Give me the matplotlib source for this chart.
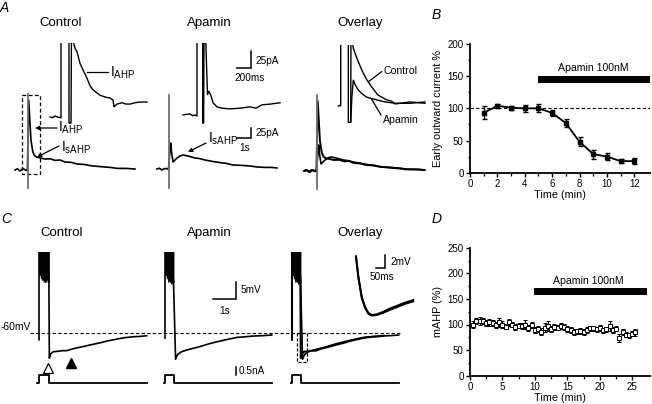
import matplotlib
matplotlib.use('Agg')
import matplotlib.pyplot as plt
from matplotlib.transforms import Affine2D
from matplotlib.patches import Rectangle

plt.rcParams['font.family'] = ['Liberation Sans', 'DejaVu Sans']
plt.rcParams['mathtext.default'] = 'regular'

# ---------------- data ----------------
# B: early outward current (%) vs time (min)
b_time = [1, 2, 3, 4, 5, 6, 7, 8, 9, 10, 11, 12]
b_value = [93, 104, 101, 100, 100, 93, 77, 48, 29, 25, 18, 18]
b_err = [10, 3, 3, 5, 6, 5, 6, 7, 7, 5, 3, 5]

# D: mAHP (%) vs time (min)
d_time = [0.5, 1, 1.5, 2, 2.5, 3, 3.5, 4, 4.5, 5, 5.5, 6, 6.5, 7, 7.5, 8, 8.5,
          9, 9.5, 10, 10.5, 11, 11.5, 12, 12.5, 13, 13.5, 14, 14.5, 15, 15.5,
          16, 16.5, 17, 17.5, 18, 18.5, 19, 19.5, 20, 20.5, 21, 21.5, 22, 22.5,
          23, 23.5, 24, 24.5, 25, 25.5]
d_value = [100, 107, 107, 107, 103, 104, 103, 99, 104, 100, 96, 104, 100, 95,
           98, 97, 100, 93, 99, 89, 92, 86, 94, 97, 92, 95, 94, 97, 95, 92, 89,
           86, 87, 87, 86, 89, 93, 93, 91, 93, 89, 91, 97, 89, 92, 73, 85, 80,
           79, 82, 85]
d_err = [7, 6, 7, 6, 5, 6, 5, 5, 9, 6, 5, 6, 5, 6, 5, 5, 8, 6, 5, 6, 6, 7, 8,
         10, 6, 6, 5, 6, 6, 6, 6, 6, 5, 6, 6, 6, 5, 5, 5, 6, 5, 5, 9, 6, 5, 8,
         6, 5, 5, 5, 7]

# A: whole traces (s, pA)
a_ctrl_t = [-0.93, -0.75, -0.57, -0.43, -0.29, -0.15, -0.04, 0.05, 0.21, 0.34,
            0.46, 0.62, 0.9, 1.21, 1.6, 1.93, 2.3, 2.64, 3.1, 3.5, 4.0, 4.43,
            5.0, 5.5, 6.0, 6.36, 7.0, 7.64]
a_ctrl_i = [0, 3, -2.5, 2, 2.5, -1, 0, 175, 75, 46, 36, 32, 30, 27.5, 28, 24,
            25, 20, 19, 15, 14, 11, 9, 7.5, 6, 4, 4, 2.5]
a_apa_t = [-0.86, -0.7, -0.5, -0.35, -0.21, -0.04, 0.07, 0.12, 0.18, 0.29,
           0.43, 0.57, 0.79, 1.0, 1.36, 1.86, 2.2, 2.57, 3.1, 3.64, 4.1, 4.57,
           5.2, 5.79, 6.3, 6.86, 7.3, 7.71]
a_apa_i = [0, 2, -2.5, 1, 1, 0, 47.5, 65, 42, 17.5, 22.5, 27.5, 32.5, 35,
           32.5, 27.5, 26, 22.5, 19, 16, 14, 10, 9, 7.5, 5, 4, 4, 2.5]
a_ctrl_spike = [-45, 190]
a_apa_spike = [-47, 185]

# A: expanded insets (ms, pA)
a_ins_ctrl_t = [-157, -120, -86, -50, -14, 0, 0, 114, 114, 143, 150, 171, 200,
                229, 271, 329, 371, 414, 457, 557, 643, 700, 743, 757, 800,
                871, 930, 986, 1060, 1129, 1229]
a_ins_ctrl_i = [0, -1, 1.5, 0, -0.7, -1.5, 128, 128, -9, -9, 128, 113, 101,
                96, 79, 66, 57, 46, 40, 32, 29, 28, 25, 15, 19, 21, 19, 19,
                21, 22, 22]
a_ins_apa_t = [-200, -150, -100, -60, -29, 0, 0, 81, 81, 95, 100, 120, 150,
               171, 200, 229, 286, 357, 471, 614, 757, 843, 929, 1043, 1186]
a_ins_apa_i = [0, 1, 1.5, -1, 0, -1.5, 125, 125, -12, -12, 125, 125, 30, 35,
               28, 18, 12, 10, 9, 10, 12, 10, 15, 16, 18]
a_ovl_ctrl_t = [-34, -15, 0, 0, 109, 109, 143, 147, 169, 180, 229, 276, 319,
                376, 443, 533, 657, 729, 776, 847, 990, 1100, 1204]
a_ovl_ctrl_i = [0, 1, 0, 112, 112, -24, -24, 112, 93, 85, 71, 59, 49, 38, 28,
                16, 9, 7, 3, 4, 6, 5, 4]
a_ovl_apa_t = [143, 161, 180, 204, 247, 304, 371, 514, 633, 776, 990, 1204]
a_ovl_apa_i = [-24, 16, 38, 32, 24, 18, 13, 9, 6, 4, 4, 6]

# C: membrane potential (s, mV)
c_ctrl_t = [0, 0, 0.43, 0.45, 0.5, 0.62, 0.8, 1.0, 1.2, 1.5, 1.91, 2.3, 2.65,
            3.0, 3.38, 3.7, 4.09, 4.4, 4.68]
c_ctrl_v = [-62, 0, -45, -67.4, -66.2, -65.5, -65.4, -65.2, -65.2, -64.6, -64.0,
            -63.4, -62.9, -62.3, -61.8, -61.4, -61.1, -61.0, -60.8]
c_apa_t = [0, 0, 0.37, 0.46, 0.55, 0.72, 1.0, 1.52, 1.9, 2.25, 2.7, 3.12, 3.5,
           3.83, 4.2, 4.64]
c_apa_v = [-61.5, 0, -45, -67.7, -66.3, -65.5, -64.9, -64.0, -63.2, -62.6,
           -61.9, -61.3, -61.1, -60.9, -60.8, -60.6]
# spike-burst troughs (s, mV); spike peaks run off the top of the frame
c_burst_ctrl_t = [0, 0.02, 0.05, 0.08, 0.11, 0.14, 0.17, 0.2, 0.23, 0.26,
                  0.29, 0.32, 0.35, 0.38, 0.41, 0.43]
c_burst_ctrl_lo = [-41.5, -43, -42, -44, -42.5, -44.5, -43, -45, -43.5, -45,
                   -44, -45, -43.5, -44.5, -45, -45]
c_burst_apa_t = [0, 0.02, 0.05, 0.08, 0.11, 0.14, 0.17, 0.2, 0.23, 0.26,
                 0.29, 0.32, 0.35, 0.37]
c_burst_apa_lo = [-41.5, -43, -42, -44, -42.5, -45, -43.5, -45, -44, -45.5,
                  -44, -45.5, -44.5, -45]
# current steps (s, nA)
c_step_ctrl_t = [-0.1, 0, 0, 0.42, 0.42, 4.68]
c_step_apa_t = [-0.05, 0, 0, 0.37, 0.37, 4.64]
c_step_i = [0, 0, 0.5, 0.5, 0, 0]
# C inset (ms, mV above trough)
c_ins_t = [0, 13, 32, 50, 68, 87, 115, 152, 189, 226, 272, 318]
c_ins_ctrl_v = [9.0, 5.9, 2.8, 1.3, 0.35, 0, 0.1, 0.5, 1.0, 1.4, 1.9, 2.3]
c_ins_apa_v = [9.0, 5.8, 2.6, 1.1, 0.2, -0.1, 0, 0.35, 0.8, 1.2, 1.7, 2.1]

# ---------------- figure ----------------
W, H = 652, 404
fig = plt.figure(figsize=(W / 100, H / 100), dpi=100)
ov = fig.add_axes([0, 0, 1, 1])
ov.set_xlim(0, W)
ov.set_ylim(H, 0)
ov.set_autoscale_on(False)
ov.axis('off')

GREY = '#707070'


def place(x0, y0, sx, sy, v0=0.0):
    return Affine2D().translate(0, -v0).scale(sx, -sy).translate(x0, y0) + ov.transData


def clipper(top):
    return Rectangle((0, top), W, H - top, transform=ov.transData)


def trace(t, v, x0, y0, sx, sy, v0=0.0, top=None, **kw):
    kw.setdefault('color', 'k')
    kw.setdefault('lw', 1.0)
    ln, = ov.plot(t, v, transform=place(x0, y0, sx, sy, v0), **kw)
    if top is not None:
        ln.set_clip_path(clipper(top))
    return ln


def burst(t, lo, x0, sx):
    f = ov.fill_between(t, lo, [0] * len(t), color='k', lw=0.6, ec='k',
                        transform=place(x0, 333, sx, SC_V, -60))
    f.set_clip_path(clipper(252))


def scalebar(x, y, sx, sy, dx, dy):
    ov.plot([x - dx * sx, x, x], [y, y, y - dy * sy], color='k', lw=1.1,
            solid_joinstyle='miter')


def label(x, y, s, size=7.2, **kw):
    ov.text(x, y, s, fontsize=size, **kw)


# panel letters and titles
for x, y, s in [(0, 8, 'A'), (432, 15, 'B'), (1, 219, 'C'), (432, 219, 'D')]:
    ov.text(x, y, s, fontsize=10, style='italic', va='center')
for x, y, s in [(61, 23, 'Control'), (209, 23, 'Apamin'), (360, 23, 'Overlay'),
                (62, 233, 'Control'), (209, 233, 'Apamin'), (360, 233, 'Overlay')]:
    ov.text(x, y, s, fontsize=9.5, ha='center', va='center')

# ----- A whole traces -----
SA_T, SA_I = 14, 0.4
for x0, y0, t, i, sp in [(28, 170, a_ctrl_t, a_ctrl_i, a_ctrl_spike),
                         (169, 169, a_apa_t, a_apa_i, a_apa_spike)]:
    trace(t, i, x0, y0, SA_T, SA_I, lw=1.2)
    trace([0, 0], sp, x0, y0, SA_T, SA_I, color=GREY, lw=1.3)
trace(a_ctrl_t, a_ctrl_i, 317, 171, SA_T, SA_I, lw=1.4)
trace(a_apa_t, a_apa_i, 317, 171, SA_T, SA_I, lw=1.2)
trace([0, 0], a_ctrl_spike, 317, 171, SA_T, SA_I, color=GREY, lw=1.3)

# ----- A insets -----
SI_T, SI_I = 0.07, 0.68
trace(a_ins_ctrl_t, a_ins_ctrl_i, 61, 117, SI_T, SI_I, top=43)
trace(a_ins_apa_t, a_ins_apa_i, 197, 115, SI_T, SI_I, top=43)
trace(a_ovl_ctrl_t, a_ovl_ctrl_i, 340.7, 106, SI_T, SI_I, top=45)
trace(a_ovl_apa_t, a_ovl_apa_i, 340.7, 106, SI_T, SI_I, top=45)

# A annotations
ov.add_patch(Rectangle((22, 95), 18, 79, fill=False, ls=(0, (3, 2)), lw=0.9, ec='k'))
arrow = dict(arrowstyle='-|>', color='k', lw=0.9, mutation_scale=6,
             shrinkA=0, shrinkB=0)
ov.annotate('', xy=(35, 128), xytext=(57, 128), arrowprops=arrow)
ov.text(58.5, 132, r'I$_{AHP}$', fontsize=10, va='baseline')
ov.annotate('', xy=(37, 157), xytext=(59, 146), arrowprops=arrow)
ov.text(61, 152, r'I$_{sAHP}$', fontsize=10, va='baseline')
ov.plot([108, 87], [72, 72], color='k', lw=0.9)
ov.text(109.5, 77, r'I$_{AHP}$', fontsize=10, va='baseline')
ov.annotate('', xy=(188, 152), xytext=(206, 143), arrowprops=arrow)
ov.text(208.5, 143, r'I$_{sAHP}$', fontsize=10, va='baseline')
ov.plot([381.7, 368.3], [71.7, 81.7], color='k', lw=0.9)
label(383, 71, 'Control', size=7.6, va='center')
ov.plot([381, 371.7], [115, 99.3], color='k', lw=0.9)
label(383, 120, 'Apamin', size=7.6, va='center')

# A scale bars
scalebar(251, 68, SI_T, SI_I, 200, 25)
label(255, 61, '25pA', va='center')
label(250, 78, '200ms', va='center', ha='center')
scalebar(251, 138, SA_T, SA_I, 1, 25)
label(255, 133, '25pA', va='center')
label(245, 148, '1s', va='center', ha='center')

# ----- C traces -----
SC_T, SC_V, SC_I = 23, 3.4, 16
ov.plot([30, 400], [333, 333], color='k', lw=0.8, ls=(0, (3, 2)))
label(31, 327, '-60mV', va='center', ha='right', size=7.4)

for x0, bt, blo, t, v, st in [(39, c_burst_ctrl_t, c_burst_ctrl_lo, c_ctrl_t, c_ctrl_v, c_step_ctrl_t),
                              (165, c_burst_apa_t, c_burst_apa_lo, c_apa_t, c_apa_v, c_step_apa_t)]:
    burst(bt, blo, x0, SC_T)
    trace(t, v, x0, 333, SC_T, SC_V, v0=-60, top=252, lw=1.2)
    trace(st, c_step_i, x0, 383, SC_T, SC_I, lw=1.3)

burst(c_burst_apa_t, c_burst_apa_lo, 292, SC_T)
trace(c_ctrl_t, c_ctrl_v, 292, 333, SC_T * 0.85, SC_V, v0=-60, top=252, lw=1.5)
trace(c_apa_t, c_apa_v, 292, 333, SC_T, SC_V, v0=-60, top=252, lw=1.2)
trace(c_step_apa_t, c_step_i, 292, 383, SC_T, SC_I, lw=1.3)

# C inset
SCI_T, SCI_V = 0.18, 6.5
trace(c_ins_t, c_ins_ctrl_v, 356, 315, SCI_T, SCI_V, lw=1.4)
trace(c_ins_t, c_ins_apa_v, 356, 315, SCI_T, SCI_V, lw=1.4)

# C annotations
ov.add_patch(Rectangle((297.3, 333.3), 9.4, 29, fill=False, ls=(0, (2.5, 1.5)), lw=0.9, ec='k'))
ov.plot([48], [368], marker='^', ms=7.5, mfc='white', mec='k', mew=0.9)
ov.plot([71], [363], marker='^', ms=7.5, color='k')
scalebar(236, 299, SC_T, SC_V, 1, 5)
label(241, 290, '5mV', va='center')
label(225, 311, '1s', va='center', ha='center')
ov.plot([236, 236], [375, 375 - 0.5 * SC_I], color='k', lw=1.1)
label(239, 371, '0.5nA', va='center')
scalebar(385, 268, SCI_T, SCI_V, 50, 2)
label(390, 262, '2mV', va='center')
label(382, 277, '50ms', va='center', ha='center')


# ---------------- B and D ----------------
def style(ax):
    for s in ['top', 'right']:
        ax.spines[s].set_visible(False)
    for s in ['left', 'bottom']:
        ax.spines[s].set_linewidth(1.3)
    ax.tick_params(which='major', direction='out', length=3, width=1,
                   labelsize=7, pad=1.5)
    ax.tick_params(which='minor', direction='out', length=1.8, width=0.9)
    ax.patch.set_alpha(0)


axB = fig.add_axes([470 / W, 1 - 172.7 / H, 180 / W, 128.7 / H])
style(axB)
axB.set_xlim(0, 180 / 13.69)
axB.set_ylim(0, 200)
axB.axhline(100, color='k', lw=0.8, ls=(0, (3, 2)))
axB.errorbar(b_time, b_value, yerr=b_err, fmt='-s', color='k', ms=2.5, lw=1.3,
             elinewidth=1, capsize=1.8, capthick=1, clip_on=False)
axB.fill_between([5, 13.15], 140, 151, color='k', lw=0)
axB.text(9.0, 162, 'Apamin 100nM', fontsize=7.6, ha='center', va='center')
axB.set_xticks(range(0, 13, 2))
axB.set_xticks(range(1, 13, 2), minor=True)
axB.set_yticks([0, 50, 100, 150, 200])
axB.set_yticks([25, 75, 125, 175], minor=True)
axB.set_xlabel('Time (min)', fontsize=7.8, labelpad=1)
axB.set_ylabel('Early outward current %', fontsize=7.8, labelpad=3)

axD = fig.add_axes([470 / W, 1 - 375.7 / H, 180 / W, 128 / H])
style(axD)
axD.set_xlim(0, 180 / 6.49)
axD.set_ylim(0, 250)
axD.errorbar(d_time, d_value, yerr=d_err, fmt='s', color='k', ms=2.3,
             mfc='white', mec='k', mew=0.7, elinewidth=0.9, capsize=1.5,
             capthick=0.9)
axD.fill_between([9.9, 27.3], 157.5, 172, color='k', lw=0)
axD.text(18.2, 185, 'Apamin 100nM', fontsize=7.6, ha='center', va='center')
axD.set_xticks(range(0, 26, 5))
axD.set_xticks([2.5, 7.5, 12.5, 17.5, 22.5], minor=True)
axD.set_yticks(range(0, 251, 50))
axD.set_yticks(range(25, 250, 50), minor=True)
axD.set_xlabel('Time (min)', fontsize=7.8, labelpad=1)
axD.set_ylabel('mAHP (%)', fontsize=7.8, labelpad=3)

fig.savefig('out.png', dpi=100)
